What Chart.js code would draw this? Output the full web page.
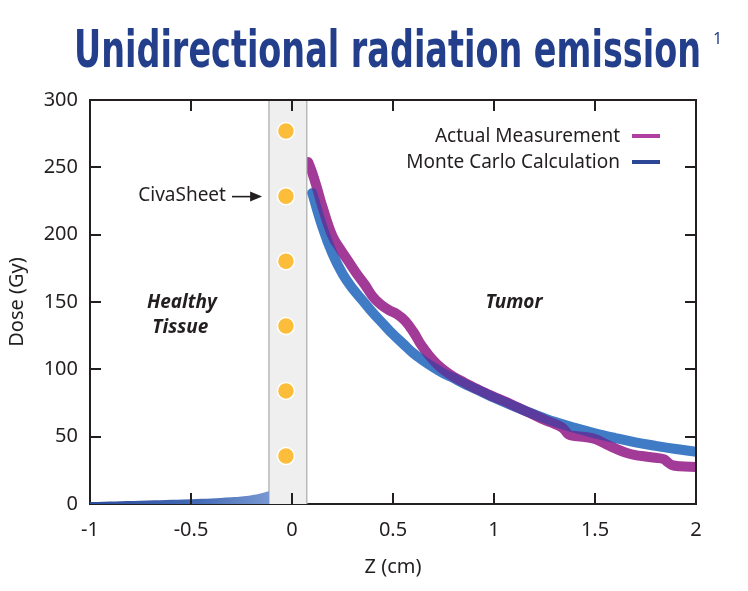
<!DOCTYPE html>
<html><head><meta charset="utf-8">
<script src="https://cdn.jsdelivr.net/npm/chart.js@4.4.1/dist/chart.umd.min.js"></script>
<style>html,body{margin:0;padding:0;background:#fff;}#wrap{width:748px;height:591px;}</style>
</head><body><div id="wrap"><canvas id="c" width="748" height="591"></canvas></div>
<script>
// ---- data ----
const titleText = 'Unidirectional radiation emission';
const xTicks = [-1, -0.5, 0, 0.5, 1, 1.5, 2];
const xTickLabels = ['-1', '-0.5', '0', '0.5', '1', '1.5', '2'];
const yTicks = [0, 50, 100, 150, 200, 250, 300];
const seriesNames = ['Actual Measurement', 'Monte Carlo Calculation'];

const mcX = [0.10, 0.15, 0.20, 0.25, 0.30, 0.35, 0.40, 0.45, 0.50, 0.55, 0.60, 0.65, 0.70, 0.75, 0.80, 0.85, 0.90, 0.95, 1.00, 1.10, 1.20, 1.30, 1.40, 1.50, 1.60, 1.70, 1.80, 1.90, 2.00];
const mcY = [231, 206, 186, 171, 160, 151, 142, 134, 126, 119, 112, 106.5, 101.5, 97, 93.5, 89.5, 86, 82.5, 79, 72.5, 66.5, 61, 56.5, 52.5, 49, 45.8, 43.2, 40.8, 38.8];

const actX = [0.08, 0.10, 0.125, 0.15, 0.20, 0.24, 0.28, 0.32, 0.36, 0.40, 0.44, 0.48, 0.52, 0.56, 0.60, 0.64, 0.68, 0.72, 0.76, 0.80, 0.85, 0.90, 0.95, 1.00, 1.05, 1.10, 1.15, 1.20, 1.25, 1.30, 1.34, 1.37, 1.40, 1.45, 1.50, 1.55, 1.60, 1.65, 1.70, 1.75, 1.80, 1.84, 1.86, 1.88, 1.92, 2.00];
const actY = [254, 246, 234, 221, 199, 189, 180, 171, 163, 154, 148, 144, 141, 136, 128, 118, 110, 103.5, 98.5, 94.5, 90.5, 86.5, 83, 79.5, 76.5, 73, 69.5, 66, 62.5, 59.5, 56.5, 51.5, 50.5, 49.8, 48.3, 44.8, 41.3, 38.3, 36.3, 35.3, 34.3, 33.3, 31, 29, 28, 27.4];

const healthyX = [-1, -0.75, -0.5, -0.3, -0.2, -0.114];
const healthyY = [1.5, 2.5, 3.5, 5, 6.5, 9.5];

const seedX = [-0.03, -0.03, -0.03, -0.03, -0.03, -0.03];
const seedY = [277, 228.6, 180.2, 132.2, 84, 35.6];

const sheetBand = [-0.114, 0.073];

const labels = [
  {text: 'Healthy', x: -0.545, y: 149.5},
  {text: 'Tissue', x: -0.553, y: 131},
  {text: 'Tumor', x: 1.099, y: 149.5}
];
const sheetLabel = {text: 'CivaSheet', x: -0.327, y: 229, arrowFrom: -0.297, arrowTo: -0.148};

// ---- styles ----
const FONT = '"Noto Sans", "Open Sans", sans-serif';
const INK = '#231f20';
const C_ACT = '#a23a97';
const C_OVER = '#5a3b9e';
const C_MC = '#407cc5';

const pts = (xs, ys) => xs.map((x, i) => ({x, y: ys[i]}));

const decor = {
  id: 'decor',
  beforeDatasetsDraw(chart) {
    const {ctx, chartArea: a, scales: {x}} = chart;
    const x0 = x.getPixelForValue(sheetBand[0]), x1 = x.getPixelForValue(sheetBand[1]);
    ctx.save();
    ctx.fillStyle = '#efefef';
    ctx.fillRect(x0, a.top, x1 - x0, a.bottom - a.top);
    ctx.strokeStyle = '#b8b8b8';
    ctx.lineWidth = 1.5;
    ctx.beginPath();
    ctx.moveTo(x0, a.top); ctx.lineTo(x0, a.bottom);
    ctx.moveTo(x1, a.top); ctx.lineTo(x1, a.bottom);
    ctx.stroke();
    ctx.restore();
  },
  beforeDatasetDraw(chart, args) {
    const ds = chart.data.datasets[args.index];
    if (ds.compositeOp) {
      const {ctx, chartArea: a, scales: {x}} = chart;
      ctx.save();
      if (ds.clipBand) {
        const x1 = x.getPixelForValue(sheetBand[1]) + 1;
        ctx.beginPath();
        ctx.rect(x1, a.top, a.right - x1, a.bottom - a.top);
        ctx.clip();
      }
      ctx.globalCompositeOperation = ds.compositeOp;
    }
  },
  afterDatasetDraw(chart, args) {
    const ds = chart.data.datasets[args.index];
    if (ds.compositeOp) chart.ctx.restore();
  },
  afterDraw(chart) {
    const {ctx, chartArea: a, scales: {x, y}} = chart;
    ctx.save();
    ctx.strokeStyle = INK;
    ctx.lineWidth = 2;
    ctx.beginPath();
    ctx.moveTo(a.left - 1, a.top); ctx.lineTo(a.right, a.top); ctx.lineTo(a.right, a.bottom + 1);
    ctx.stroke();
    const tl = 11;
    ctx.beginPath();
    xTicks.forEach(v => {
      const px = Math.round(x.getPixelForValue(v));
      if (v !== xTicks[0] && v !== xTicks[xTicks.length - 1]) {
        ctx.moveTo(px, a.bottom); ctx.lineTo(px, a.bottom - tl);
        ctx.moveTo(px, a.top); ctx.lineTo(px, a.top + tl);
      }
    });
    yTicks.forEach(v => {
      const py = Math.round(y.getPixelForValue(v));
      if (v !== yTicks[0] && v !== yTicks[yTicks.length - 1]) {
        ctx.moveTo(a.left, py); ctx.lineTo(a.left + tl, py);
        ctx.moveTo(a.right, py); ctx.lineTo(a.right - tl, py);
      }
    });
    ctx.stroke();

    ctx.fillStyle = INK;
    ctx.textAlign = 'center';
    ctx.textBaseline = 'middle';
    ctx.font = 'italic bold 19px ' + FONT;
    labels.forEach(l => ctx.fillText(l.text, x.getPixelForValue(l.x), y.getPixelForValue(l.y)));

    ctx.font = '19px ' + FONT;
    ctx.textAlign = 'right';
    const sy = y.getPixelForValue(sheetLabel.y);
    ctx.fillText(sheetLabel.text, x.getPixelForValue(sheetLabel.x), sy);
    const ax0 = x.getPixelForValue(sheetLabel.arrowFrom), ax1 = x.getPixelForValue(sheetLabel.arrowTo);
    ctx.lineWidth = 1.6;
    ctx.beginPath(); ctx.moveTo(ax0, sy + 1); ctx.lineTo(ax1 - 8, sy + 1); ctx.stroke();
    ctx.beginPath();
    ctx.moveTo(ax1, sy + 1); ctx.lineTo(ax1 - 12, sy - 4); ctx.lineTo(ax1 - 12, sy + 6); ctx.closePath();
    ctx.fill();

    ctx.font = '19px ' + FONT;
    ctx.textAlign = 'right';
    const lx = a.right - 76;
    const rows = [[seriesNames[0], '#b03fa0', a.top + 37], [seriesNames[1], '#2b4795', a.top + 63]];
    rows.forEach(([t, c, ry]) => {
      ctx.fillStyle = INK;
      ctx.fillText(t, lx, ry);
      ctx.strokeStyle = c;
      ctx.lineWidth = 4;
      ctx.beginPath(); ctx.moveTo(a.right - 64, ry - 1); ctx.lineTo(a.right - 36, ry - 1); ctx.stroke();
    });

    ctx.fillStyle = '#233e8b';
    ctx.textAlign = 'left';
    ctx.textBaseline = 'alphabetic';
    ctx.font = 'bold 52px "Liberation Sans Narrow", "DejaVu Sans Condensed", ' + FONT;
    const w = ctx.measureText(titleText).width;
    const target = 627;
    ctx.save();
    ctx.translate(74, 67);
    ctx.scale(target / w, 1);
    ctx.fillText(titleText, 0, 0);
    ctx.restore();
    ctx.font = '16px ' + FONT;
    ctx.fillText('1', 713, 44);
    ctx.restore();
  }
};

new Chart(document.getElementById('c'), {
  type: 'scatter',
  data: {
    datasets: [
      {label: 'seeds', data: pts(seedX, seedY), showLine: false, pointRadius: 8.5, pointBackgroundColor: '#fcbd3b',
       pointBorderColor: '#ffffff', pointBorderWidth: 1.5, order: 1},
      {label: seriesNames[0], data: pts(actX, actY), showLine: true, borderColor: C_ACT, borderWidth: 10,
       pointRadius: 0, tension: 0.4, borderCapStyle: 'round', borderJoinStyle: 'round', clip: 0,
       compositeOp: 'destination-over', order: 2},
      {label: 'overlap', data: pts(actX, actY), showLine: true, borderColor: C_OVER, borderWidth: 10,
       pointRadius: 0, tension: 0.4, borderCapStyle: 'round', borderJoinStyle: 'round', clip: 0,
       compositeOp: 'source-atop', clipBand: true, order: 3},
      {label: seriesNames[1], data: pts(mcX, mcY), showLine: true, borderColor: C_MC, borderWidth: 10,
       pointRadius: 0, tension: 0.4, borderCapStyle: 'round', borderJoinStyle: 'round', clip: 0, order: 4},
      {label: 'healthy', data: pts(healthyX, healthyY), showLine: true, borderWidth: 0, pointRadius: 0,
       tension: 0.4, fill: 'origin', order: 5,
       backgroundColor(ctx) {
         const ch = ctx.chart; const a = ch.chartArea; if (!a) return '#4a6db5';
         const sx = ch.scales.x;
         const g = ch.ctx.createLinearGradient(sx.getPixelForValue(healthyX[0]), 0, sx.getPixelForValue(healthyX[healthyX.length - 1]), 0);
         g.addColorStop(0, '#2c4c9c'); g.addColorStop(0.6, '#4369b4'); g.addColorStop(1, '#7898d2');
         return g;
       }}
    ]
  },
  options: {
    responsive: false,
    animation: false,
    devicePixelRatio: 1,
    layout: {padding: {top: 100, right: 52, left: 0, bottom: 0}},
    plugins: {legend: {display: false}, tooltip: {enabled: false}, title: {display: false}},
    scales: {
      x: {
        type: 'linear', min: -1, max: 2,
        afterBuildTicks(s) { s.ticks = xTicks.map(v => ({value: v})); },
        afterFit(s) { s.height = 87; },
        grid: {display: false, drawTicks: false, tickLength: 0},
        border: {display: true, color: INK, width: 2},
        ticks: {color: INK, font: {family: FONT, size: 20}, padding: 14, maxRotation: 0, autoSkip: false,
                callback: (v) => xTickLabels[xTicks.indexOf(v)] ?? String(v)},
        title: {display: true, text: 'Z (cm)', color: INK, font: {family: FONT, size: 20}, padding: 12}
      },
      y: {
        type: 'linear', min: 0, max: 300,
        afterBuildTicks(s) { s.ticks = yTicks.map(v => ({value: v})); },
        afterFit(s) { s.width = 90; },
        grid: {display: false, drawTicks: false, tickLength: 0},
        border: {display: true, color: INK, width: 2},
        ticks: {color: INK, font: {family: FONT, size: 20}, padding: 12, autoSkip: false},
        title: {display: true, text: 'Dose (Gy)', color: INK, font: {family: FONT, size: 20}, padding: 5}
      }
    }
  },
  plugins: [decor]
});
</script>
</body></html>
